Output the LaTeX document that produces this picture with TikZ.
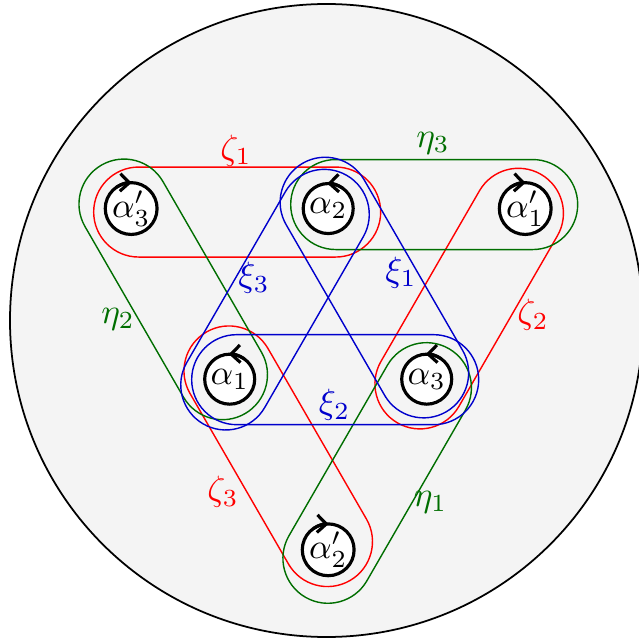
\documentclass[tikz,border=0pt]{standalone}
\usepackage{amsmath}
\usetikzlibrary{arrows.meta}
\definecolor{diskGray}{HTML}{F4F4F4}
\definecolor{zetaRed}{HTML}{FF0000}
\definecolor{etaGreen}{HTML}{006E00}
\definecolor{xiBlue}{HTML}{0000CC}
% stadium round two punctures: colour, first puncture, direction, shift along, shift across
\newcommand{\lasso}[5]{%
  \draw[#1, shift={(#2.center)}, rotate=#3]
    (#4,#5+0.45) -- (#4+1.97,#5+0.45) arc[start angle=90, end angle=-90, radius=0.45]
    -- (#4,#5-0.45) arc[start angle=270, end angle=90, radius=0.45] -- cycle;}

\begin{document}
\begin{tikzpicture}[
  font=\normalsize,
  hole/.style={circle, draw, fill=white, line width=0.9pt, minimum size=0.5cm,
               inner sep=0pt, outer sep=0pt},
  turn/.style={line width=0.9pt, -{Straight Barb[length=2.6pt,width=5pt]}}
]
\useasboundingbox (-3.282,-3.187) rectangle (3.098,3.223);
\filldraw[fill=diskGray, draw=black, line width=0.5pt] (-0.017,0.018) circle (3.165);

\node[hole] (a3p) at (150:2.275) {$\alpha'_3$};
\node[hole] (a1p) at (30:2.275)  {$\alpha'_1$};
\node[hole] (a2p) at (270:2.275) {$\alpha'_2$};
\node[hole] (a2)  at (90:1.1375) {$\alpha_2$};
\node[hole] (a3)  at (-30:1.1375) {$\alpha_3$};
\node[hole] (a1)  at (210:1.1375) {$\alpha_1$};

\foreach \n in {a1p,a2p,a3p}
  \draw[turn] (\n.125) arc[start angle=125, end angle=88, radius=0.25];
\foreach \n in {a1,a2,a3}
  \draw[turn] (\n.55) arc[start angle=55, end angle=92, radius=0.25];

\foreach \n/\a in {a3p/0, a1p/240, a2p/120}
  \lasso{zetaRed}{\n}{\a}{0.075}{-0.035};
\foreach \n/\a in {a2/0, a3/240, a1/120}
  \lasso{etaGreen}{\n}{\a}{0.075}{0.04};
\foreach \n/\a in {a1/0, a2/240, a3/120}
  \lasso{xiBlue}{\n}{\a}{0.07}{-0.005};

\node[zetaRed]  (z1) at (-0.922,1.718) {$\zeta_1$};
\node[zetaRed]  (z2) at (2.048,0.073)  {$\zeta_2$};
\node[zetaRed]  (z3) at (-1.052,-1.697) {$\zeta_3$};
\node[etaGreen] (e1) at (1.023,-1.797) {$\eta_1$};
\node[etaGreen] (e2) at (-2.102,0.033) {$\eta_2$};
\node[etaGreen] (e3) at (1.048,1.793)  {$\eta_3$};
\node[xiBlue]   (x1) at (0.728,0.497)  {$\xi_1$};
\node[xiBlue]   (x2) at (0.063,-0.827) {$\xi_2$};
\node[xiBlue]   (x3) at (-0.742,0.443) {$\xi_3$};
\end{tikzpicture}
\end{document}
